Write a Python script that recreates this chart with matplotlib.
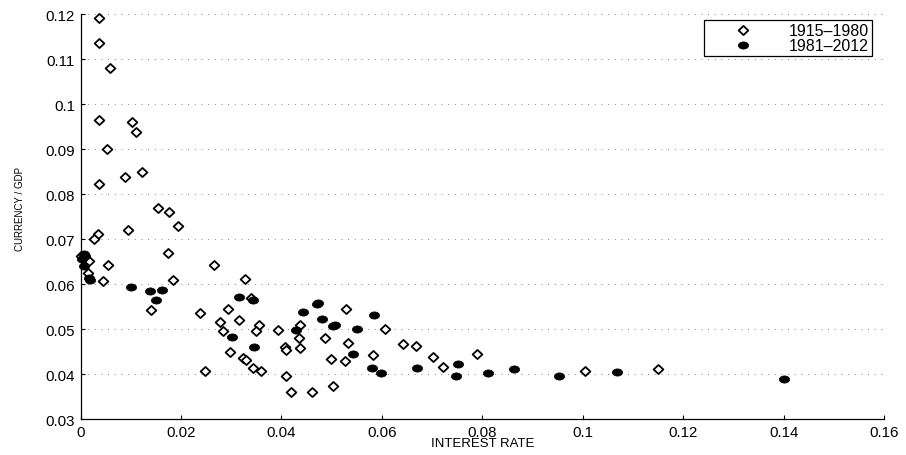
import matplotlib
matplotlib.use('Agg')
import matplotlib.pyplot as plt
import numpy as np
from matplotlib.path import Path

plt.rcParams['font.family'] = ['Liberation Sans', 'DejaVu Sans']

# 1915-1980: interest rate vs currency / GDP
rate_early = [0.0037, 0.0037, 0.0059, 0.0037, 0.0102, 0.0111, 0.0052, 0.0037,
              0.0089, 0.0122, 0.0154, 0.0177, 0.0193, 0.0095, 0.0034, 0.0026,
              0.0175, 0.0266, 0.0054, 0.0000, 0.0006, 0.0016, 0.0014, 0.0045,
              0.0185, 0.0327, 0.0140, 0.0238, 0.0278, 0.0294, 0.0316, 0.0284,
              0.0339, 0.0298, 0.0324, 0.0329, 0.0344, 0.0248, 0.0356, 0.0349,
              0.0359, 0.0394, 0.0406, 0.0409, 0.0409, 0.0418, 0.0437, 0.0434,
              0.0436, 0.0487, 0.0461, 0.0498, 0.0502, 0.0528, 0.0533, 0.0527,
              0.0583, 0.0606, 0.0642, 0.0667, 0.0702, 0.0721, 0.0789, 0.1004,
              0.1150]
ratio_early = [0.1191, 0.1135, 0.1081, 0.0965, 0.0959, 0.0938, 0.0900, 0.0823,
               0.0837, 0.0850, 0.0768, 0.0761, 0.0728, 0.0719, 0.0712, 0.0699,
               0.0668, 0.0643, 0.0643, 0.0663, 0.0654, 0.0652, 0.0625, 0.0607,
               0.0610, 0.0612, 0.0542, 0.0536, 0.0515, 0.0544, 0.0521, 0.0496,
               0.0569, 0.0450, 0.0436, 0.0431, 0.0413, 0.0407, 0.0510, 0.0496,
               0.0406, 0.0498, 0.0459, 0.0453, 0.0395, 0.0359, 0.0509, 0.0479,
               0.0457, 0.0479, 0.0359, 0.0433, 0.0374, 0.0544, 0.0470, 0.0428,
               0.0442, 0.0501, 0.0466, 0.0462, 0.0438, 0.0416, 0.0445, 0.0407,
               0.0411]

# 1981-2012
rate_late = [0.0006, 0.0009, 0.0002, 0.0006, 0.0016, 0.0019, 0.0100, 0.0138,
             0.0162, 0.0150, 0.0315, 0.0344, 0.0301, 0.0345, 0.0429, 0.0442,
             0.0470, 0.0473, 0.0481, 0.0503, 0.0507, 0.0551, 0.0542, 0.0584,
             0.0580, 0.0598, 0.0669, 0.0751, 0.0747, 0.0812, 0.0863, 0.0952,
             0.1068, 0.1401]
ratio_late = [0.0666, 0.0662, 0.0656, 0.0641, 0.0613, 0.0609, 0.0593, 0.0585,
              0.0586, 0.0565, 0.0572, 0.0564, 0.0482, 0.0459, 0.0498, 0.0538,
              0.0556, 0.0558, 0.0522, 0.0506, 0.0509, 0.0500, 0.0444, 0.0532,
              0.0413, 0.0402, 0.0413, 0.0423, 0.0395, 0.0403, 0.0411, 0.0395,
              0.0404, 0.0389]

x_ticks = np.arange(0, 0.161, 0.02)
y_ticks = np.arange(0.03, 0.121, 0.01)

# slightly wide diamond and flattened dot
diamond = Path([(0, -1), (1.07, 0), (0, 1), (-1.07, 0), (0, -1)],
               [Path.MOVETO, Path.LINETO, Path.LINETO, Path.LINETO, Path.CLOSEPOLY])
circ = Path.unit_circle()
dot = Path(circ.vertices * [1.0, 0.7], circ.codes)

fig = plt.figure(figsize=(9.06, 4.56), dpi=100)
ax = fig.add_axes([0.0889, 0.0789, 0.8872, 0.8882])

ax.plot(rate_early, ratio_early, linestyle='none', marker=diamond, markersize=7,
        markerfacecolor='white', markeredgecolor='black', markeredgewidth=1.3,
        clip_on=False, label='1915\u20131980')
ax.plot(rate_late, ratio_late, linestyle='none', marker=dot, markersize=7.4,
        markerfacecolor='black', markeredgecolor='black', markeredgewidth=0.5,
        clip_on=False, label='1981\u20132012')

ax.set_xlim(0, 0.16)
ax.set_ylim(0.03, 0.12)
ax.set_xticks(x_ticks)
ax.set_yticks(y_ticks)
ax.set_xticklabels(['%g' % round(v, 2) for v in x_ticks])
ax.set_yticklabels(['%g' % round(v, 2) for v in y_ticks])

ax.yaxis.grid(True, linestyle=(0, (1, 7)), linewidth=0.6, color='0.35')
ax.set_axisbelow(True)

for side in ('top', 'right'):
    ax.spines[side].set_visible(False)
for side in ('left', 'bottom'):
    ax.spines[side].set_linewidth(0.9)
ax.tick_params(direction='in', length=3, width=0.8, labelsize=10.8, pad=4)

ax.set_xlabel('INTEREST RATE', fontsize=9.5)
ax.set_ylabel('CURRENCY / GDP', fontsize=7)
ax.xaxis.set_label_coords(0.5, -0.045)
ax.yaxis.set_label_coords(-0.069, 0.52)

leg = ax.legend(loc='upper right', bbox_to_anchor=(0.985, 0.985), borderaxespad=0,
                fontsize=11.5, fancybox=False, framealpha=1, edgecolor='black',
                handlelength=4.6, handletextpad=0.55, borderpad=0.2,
                labelspacing=0.0, markerscale=1.0)
leg.get_frame().set_linewidth(0.9)

fig.savefig('out.png', dpi=100)
